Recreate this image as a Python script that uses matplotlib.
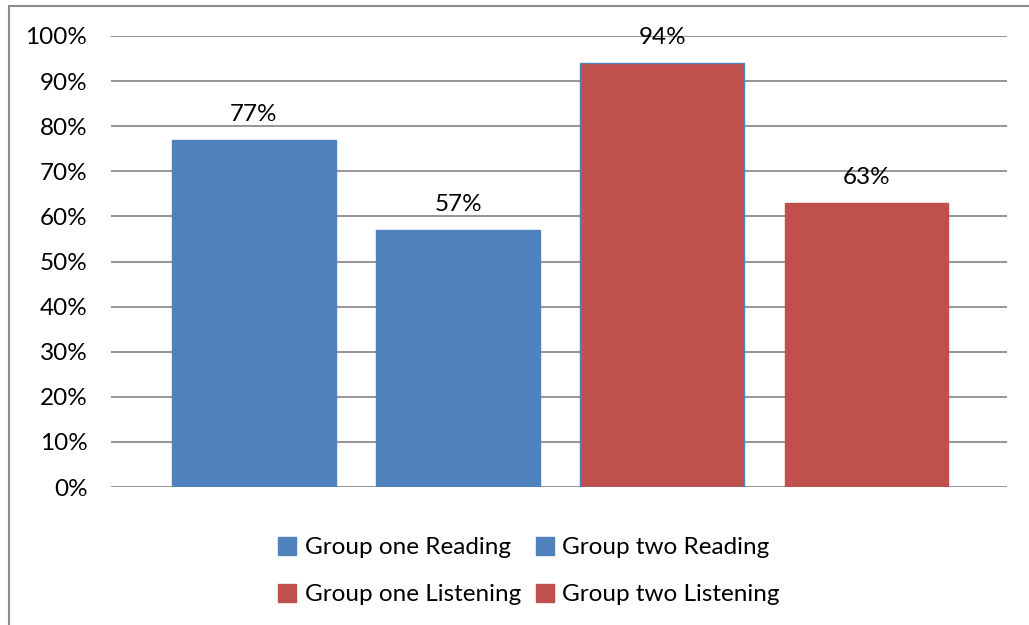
import matplotlib
matplotlib.use("Agg")
import matplotlib.pyplot as plt
from matplotlib.patches import Rectangle

# Chart data
series = ["Group one Reading", "Group two Reading",
          "Group one Listening", "Group two Listening"]
values = [77, 57, 94, 63]
colors = ["#4F81BD", "#4F81BD", "#C0504D", "#C0504D"]
edges = ["#4F81BD", "#4F81BD", "#4F81BD", "#C0504D"]
yticks = list(range(0, 101, 10))

plt.rcParams['font.family'] = ['Lato', 'DejaVu Sans']
FS = 17.5

fig = plt.figure(figsize=(10.29, 6.25), dpi=100)
W, H = 1029, 625

# outer chart border (runs off the right/bottom of the image)
fig.patches.append(Rectangle((9 / W, -0.1), 1.2, 1 - 6 / H + 0.1,
                             transform=fig.transFigure, fill=False,
                             edgecolor="#8c8c8c", linewidth=1.5))

ax = fig.add_axes([111 / W, 1 - 487 / H, (1007 - 111) / W, (487 - 36) / H])

x = range(len(values))
ax.bar(x, values, width=0.8, color=colors, edgecolor=edges,
       linewidth=1, zorder=3)

for xi, v in zip(x, values):
    ax.text(xi, v + 3.3, f"{v}%", ha="center", va="bottom", fontsize=FS,
            zorder=4)

ax.set_xlim(-0.70, 3.69)
ax.set_ylim(0, 100)
ax.set_yticks(yticks)
ax.set_yticklabels([f"{t}%" for t in yticks], fontsize=FS)
ax.set_xticks([])
ax.yaxis.grid(True, color="#8c8c8c", linewidth=1.3, zorder=0)
ax.tick_params(axis="y", length=0, pad=17)
for s in ax.spines.values():
    s.set_visible(False)

# legend filled row by row
order = [0, 2, 1, 3]
handles = [Rectangle((0, 0), 1, 1, color=colors[i]) for i in order]
labels = [series[i] for i in order]
fig.legend(handles, labels, loc="center", bbox_to_anchor=(529 / W, 1 - 571 / H),
           ncol=2, frameon=False, fontsize=FS, handlelength=0.75,
           handleheight=0.75, handletextpad=0.35, columnspacing=0.6,
           labelspacing=1.05)

fig.savefig("out.png", dpi=100)
